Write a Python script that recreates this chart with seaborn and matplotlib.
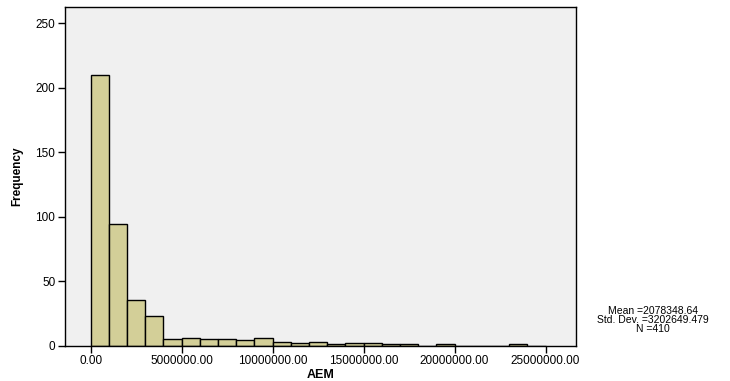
"""
SPSS-style histogram of AEM with summary statistics box.
"""

import numpy as np
import pandas as pd
import matplotlib
matplotlib.use("Agg")
import matplotlib.pyplot as plt
import seaborn as sns

# Data (bins of 1,000,000)
bin_width = 1000000
counts = [210, 94, 35, 23, 5, 6, 5, 5, 4, 6, 3, 2, 3, 1,
          2, 2, 1, 1, 0, 1, 0, 0, 0, 1, 0]
x_ticks = [0, 5000000, 10000000, 15000000, 20000000, 25000000]
y_ticks = [0, 50, 100, 150, 200, 250]
stats_text = "Mean =2078348.64\nStd. Dev. =3202649.479\nN =410"

bin_left = [i * bin_width for i in range(len(counts))]
df = pd.DataFrame({"AEM": bin_left, "count": counts})
edges = bin_left + [len(counts) * bin_width]

sns.set_style("white")
plt.rcParams["font.family"] = ["Liberation Sans", "DejaVu Sans"]
plt.rcParams["text.color"] = "black"
plt.rcParams["axes.labelcolor"] = "black"

fig = plt.figure(figsize=(7.3, 3.81), dpi=100)
ax = fig.add_axes([0.089, 0.093, 0.700, 0.888])
ax.set_facecolor("#F0F0F0")

sns.histplot(data=df, x="AEM", weights="count", bins=edges, ax=ax,
             color="#D3CF98", edgecolor="black", linewidth=1.0, alpha=1.0)

ax.set_xlim(-1.41e6, 26.67e6)
ax.set_ylim(0, 262.5)
ax.set_xticks(x_ticks)
ax.set_xticklabels([f"{v:.2f}" for v in x_ticks], fontsize=8.5)
ax.set_yticks(y_ticks)
ax.set_yticklabels([str(v) for v in y_ticks], fontsize=8.5)
ax.tick_params(axis="both", direction="out", length=5, width=1, color="black",
               labelcolor="black", bottom=True, left=True, pad=2)

for s in ax.spines.values():
    s.set_color("black")
    s.set_linewidth(1.0)

ax.set_xlabel("AEM", fontsize=9, fontweight="bold", labelpad=1)
ax.set_ylabel("Frequency", fontsize=8.5, fontweight="bold", labelpad=9)

fig.text(0.895, 0.16, stats_text, ha="center", va="center", fontsize=7.5,
         linespacing=0.85)

plt.savefig("out.png", dpi=100)
